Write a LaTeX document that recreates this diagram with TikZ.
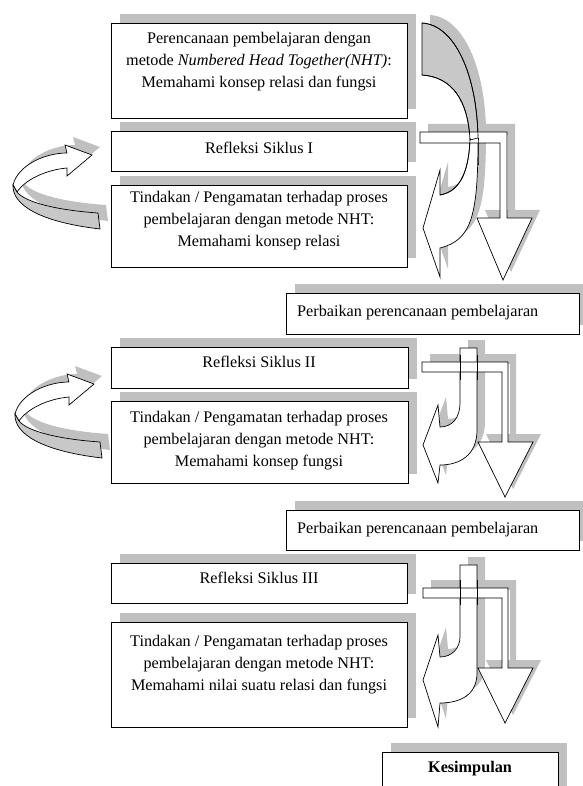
\documentclass[tikz,border=0pt]{standalone}
\usepackage{fontspec}
\setmainfont{Liberation Serif}
\definecolor{shd}{RGB}{192,192,192}
\definecolor{face}{RGB}{200,200,200}
\tikzset{
  curlarrow/.pic={
    \begin{scope}[shift={(8,-8)}]
      \fill[shd] (13,185) .. controls (18,165) and (45,153) .. (67,153) -- (65,145) -- (92,155) -- (67,176) -- (67,168) .. controls (45,170) and (25,180) .. (17,192) -- cycle;
      \fill[shd] (13,185) .. controls (12,205) and (40,222) .. (100,229) -- (98,213) .. controls (55,210) and (25,202) .. (17,192) -- cycle;
    \end{scope}
    \filldraw[arr, fill=white] (13,185) .. controls (18,165) and (45,153) .. (67,153) -- (65,145) -- (92,155) -- (67,176) -- (67,168) .. controls (45,170) and (25,180) .. (17,192) -- cycle;
    \filldraw[arr, fill=face] (13,185) .. controls (12,205) and (40,222) .. (100,229) -- (98,213) .. controls (55,210) and (25,202) .. (17,192) -- cycle;
  }
}
\begin{document}
\begin{tikzpicture}[x=1pt,y=-1pt,
  arr/.style={draw=black, line width=0.7pt, line join=miter},
  box/.style={draw=black, line width=0.9pt, fill=white, inner sep=0pt, anchor=north west,
    preaction={fill=shd, transform canvas={xshift=9pt,yshift=9pt}}},
  txt/.style={font=\fontsize{16.2}{22}\selectfont, align=center, inner sep=0pt},
]
\useasboundingbox (0,0) rectangle (582,786);

% ---------- boxes ----------
\node[box, minimum width=296pt, minimum height=95pt] (b1) at (111,23) {};
\node[txt] (t1) at (259,62) {Perencanaan pembelajaran dengan\\metode \textit{Numbered Head Together(NHT)}:\\Memahami konsep relasi dan fungsi};

\node[box, minimum width=296pt, minimum height=40pt] (r1) at (111,131) {};
\node[txt] (tr1) at (259,148) {Refleksi Siklus I};

\node[box, minimum width=296pt, minimum height=82pt] (a1) at (111,185) {};
\node[txt] (ta1) at (259,221) {Tindakan / Pengamatan terhadap proses\\pembelajaran dengan metode NHT:\\Memahami konsep relasi};

\node[box, minimum width=293pt, minimum height=41pt] (p1) at (286,293) {};
\node[txt, anchor=west] (tp1) at (297,313) {Perbaikan perencanaan pembelajaran};

\node[box, minimum width=297pt, minimum height=41pt] (r2) at (111,347) {};
\node[txt] (tr2) at (259,362) {Refleksi Siklus II};

\node[box, minimum width=297pt, minimum height=82pt] (a2) at (111,401) {};
\node[txt] (ta2) at (259,441) {Tindakan / Pengamatan terhadap proses\\pembelajaran dengan metode NHT:\\Memahami konsep fungsi};

\node[box, minimum width=293pt, minimum height=40pt] (p2) at (286,510) {};
\node[txt, anchor=west] (tp2) at (297,530) {Perbaikan perencanaan pembelajaran};

\node[box, minimum width=296pt, minimum height=40pt] (r3) at (111,563) {};
\node[txt] (tr3) at (259,578) {Refleksi Siklus III};

\node[box, minimum width=296pt, minimum height=105pt] (a3) at (111,622) {};
\node[txt] (ta3) at (259,665) {Tindakan / Pengamatan terhadap proses\\pembelajaran dengan metode NHT:\\Memahami nilai suatu relasi dan fungsi};

\node[box, minimum width=176pt, minimum height=50pt] (k) at (382,752) {};
\node[txt, font=\fontsize{16.2}{22}\selectfont\bfseries] (tk) at (470,769) {Kesimpulan};

% ---------- left curled arrows ----------
\pic {curlarrow};
\pic[shift={(2,229)}] {curlarrow};

% ---------- right arrows, set 1 ----------
\begin{scope}[shift={(8,-8)}]
  \fill[shd] (422,23) .. controls (455,25) and (477,75) .. (478,138) -- (470,140) .. controls (468,100) and (452,77) .. (422,75) -- cycle;
  \fill[shd] (470,138) .. controls (469,175) and (458,192) .. (440,195) -- (440,170) -- (423,228) -- (440,277) -- (440,248) .. controls (472,240) and (478,215) .. (478,138) -- cycle;
  \fill[shd] (420,132) -- (507,132) -- (507,218) -- (532,218) -- (503,280) -- (477,218) -- (500,218) -- (500,143) -- (420,143) -- cycle;
\end{scope}
\filldraw[arr, fill=face] (422,23) .. controls (455,25) and (477,75) .. (478,138) -- (470,140) .. controls (468,100) and (452,77) .. (422,75) -- cycle;
\filldraw[arr, fill=white] (470,138) .. controls (469,175) and (458,192) .. (440,195) -- (440,170) -- (423,228) -- (440,277) -- (440,248) .. controls (472,240) and (478,215) .. (478,138) -- cycle;
\filldraw[arr, fill=white] (420,132) -- (507,132) -- (507,218) -- (532,218) -- (503,280) -- (477,218) -- (500,218) -- (500,143) -- (420,143) -- cycle;
\draw[arr] (422,23) .. controls (455,25) and (477,75) .. (478,138) -- (470,140) .. controls (468,100) and (452,77) .. (422,75);
\draw[arr] (470,138) .. controls (469,175) and (458,192) .. (440,195);
\draw[arr] (478,138) .. controls (478,150) and (478,160) .. (478,165);

% ---------- right arrows, set 2 ----------
\begin{scope}[shift={(8,-8)}]
  \fill[shd] (460,348) -- (477,348) -- (477,430) .. controls (477,455) and (460,465) .. (440,465) -- (438,483) -- (423,445) -- (438,405) -- (440,427) .. controls (452,427) and (460,418) .. (460,403) -- cycle;
  \fill[shd] (422,362) -- (508,362) -- (508,442) -- (533,442) -- (505,497) -- (478,442) -- (502,442) -- (502,372) -- (422,372) -- cycle;
\end{scope}
\filldraw[arr, fill=white] (460,348) -- (477,348) -- (477,430) .. controls (477,455) and (460,465) .. (440,465) -- (438,483) -- (423,445) -- (438,405) -- (440,427) .. controls (452,427) and (460,418) .. (460,403) -- cycle;
\filldraw[arr, fill=white] (422,362) -- (508,362) -- (508,442) -- (533,442) -- (505,497) -- (478,442) -- (502,442) -- (502,372) -- (422,372) -- cycle;
\draw[arr] (460,355) -- (460,380) (477,355) -- (477,380);

% ---------- right arrows, set 3 ----------
\begin{scope}[shift={(8,-8)}]
  \fill[shd] (460,565) -- (477,565) -- (477,673) .. controls (477,695) and (460,703) .. (440,703) -- (438,727) -- (423,680) -- (438,635) -- (440,657) .. controls (452,657) and (460,648) .. (460,637) -- cycle;
  \fill[shd] (423,588) -- (508,588) -- (508,668) -- (533,668) -- (505,723) -- (478,668) -- (502,668) -- (502,598) -- (423,598) -- cycle;
\end{scope}
\filldraw[arr, fill=white] (460,565) -- (477,565) -- (477,673) .. controls (477,695) and (460,703) .. (440,703) -- (438,727) -- (423,680) -- (438,635) -- (440,657) .. controls (452,657) and (460,648) .. (460,637) -- cycle;
\filldraw[arr, fill=white] (423,588) -- (508,588) -- (508,668) -- (533,668) -- (505,723) -- (478,668) -- (502,668) -- (502,598) -- (423,598) -- cycle;
\draw[arr] (460,580) -- (460,605) (477,580) -- (477,605);
\end{tikzpicture}
\end{document}
